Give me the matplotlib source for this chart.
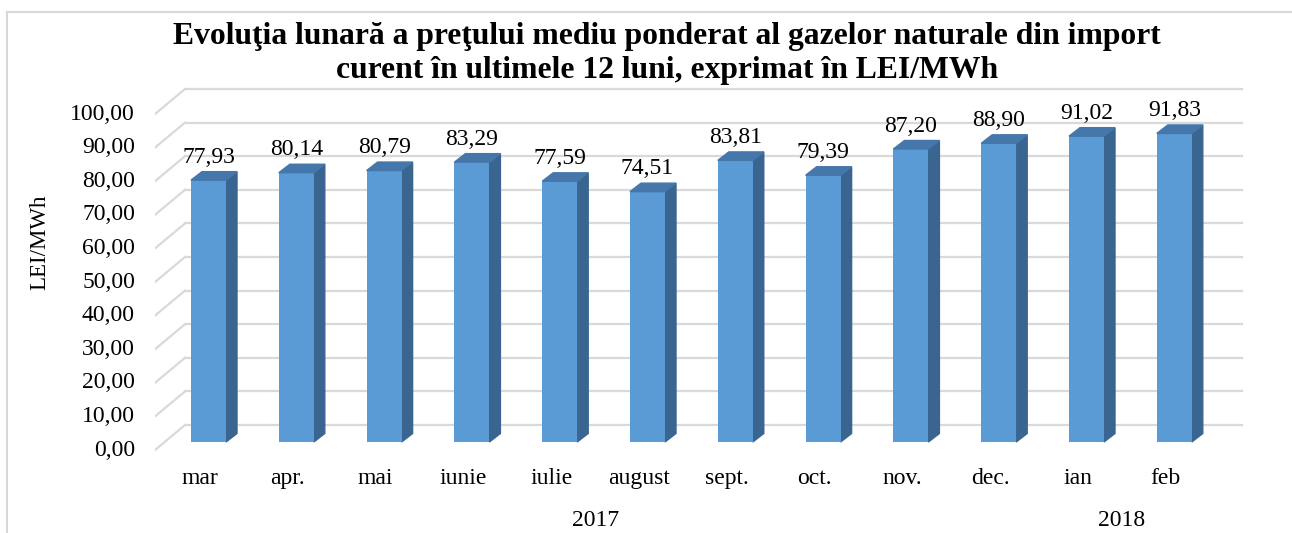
import matplotlib.pyplot as plt
from matplotlib.patches import Polygon

months = ['mar', 'apr.', 'mai', 'iunie', 'iulie', 'august',
          'sept.', 'oct.', 'nov.', 'dec.', 'ian', 'feb']
prices = [77.93, 80.14, 80.79, 83.29, 77.59, 74.51,
          83.81, 79.39, 87.20, 88.90, 91.02, 91.83]
years = ['2017', '2018']
year_spans = [(0, 9), (10, 11)]
y_ticks = [0, 10, 20, 30, 40, 50, 60, 70, 80, 90, 100]

title_lines = ['Evoluţia lunară a preţului mediu ponderat al gazelor naturale din import',
               'curent în ultimele 12 luni, exprimat în LEI/MWh']

FRONT = '#5B9BD5'
SIDE = '#3A6591'
TOP = '#4677AA'
GRID = '#D9D9D9'

plt.rcParams['font.family'] = ['Liberation Serif', 'DejaVu Serif']

W, H, DPI = 1292, 533, 100
fig = plt.figure(figsize=(W / DPI, H / DPI), dpi=DPI)

# axes placed in pixels so that 1 category = 87.8 px, 1 unit = 3.36 px
ax_l, ax_r, ax_t, ax_b = 155, 1260, 80, 533
ax = fig.add_axes([ax_l / W, 1 - ax_b / H, (ax_r - ax_l) / W, (ax_b - ax_t) / H])
PX, PY = 87.8, 3.36
x0_px, y0_px = 208.5, 442
ax.set_xlim((ax_l - x0_px) / PX, (ax_r - x0_px) / PX)
ax.set_ylim((y0_px - ax_b) / PY, (y0_px - ax_t) / PY)
ax.axis('off')

# pseudo-3D geometry (pixel offsets turned into data units)
front_dy = -8 / PY        # floor front plane below bar front
back_dy = 17 / PY         # back wall above bar front
front_x = (155 - x0_px) / PX
back_x = (185 - x0_px) / PX
back_x2 = (1242 - x0_px) / PX
bar_w = 35 / PX
depth_x = 11 / PX
depth_y = 8.5 / PY

for t in y_ticks:
    ax.plot([back_x, back_x2], [t + back_dy, t + back_dy], color=GRID, lw=1.6, zorder=1)
    ax.plot([front_x, back_x], [t + front_dy, t + back_dy], color=GRID, lw=1.6, zorder=1)
    ax.text(front_x - 20 / PX, t + front_dy, f'{t:.2f}'.replace('.', ','),
            ha='right', va='center', fontsize=17)

xs = list(range(len(months)))
ax.bar(xs, prices, width=bar_w, color=FRONT, zorder=3)
for x, v in zip(xs, prices):
    r = x + bar_w / 2
    l = x - bar_w / 2
    side = [(r, 0), (r + depth_x, depth_y), (r + depth_x, v + depth_y), (r, v)]
    top = [(l, v), (r, v), (r + depth_x, v + depth_y), (l + depth_x, v + depth_y)]
    ax.add_patch(Polygon(side, closed=True, color=SIDE, zorder=2))
    ax.add_patch(Polygon(top, closed=True, color=TOP, zorder=3))
    ax.annotate(f'{v:.2f}'.replace('.', ','), (x, v), xytext=(0, 12.5),
                textcoords='offset points', ha='center', va='baseline', fontsize=17)

for x, m in zip(xs, months):
    ax.text(x - 8.5 / PX, (y0_px - 484) / PY, m, ha='center', va='baseline', fontsize=17)

for yr, (a, b) in zip(years, year_spans):
    ax.text((a + b) / 2 - 8.5 / PX, (y0_px - 526) / PY, yr,
            ha='center', va='baseline', fontsize=17)

fig.text(40 / W, 1 - 242 / H, 'LEI/MWh', rotation=90, ha='center', va='center', fontsize=16.5)
for line, base in zip(title_lines, [44, 78]):
    fig.text(667 / W, 1 - base / H, line, ha='center', va='baseline',
             fontsize=22.8, fontweight='bold')

# chart frame (left and top edges visible)
fig.add_artist(plt.Line2D([7 / W, 7 / W], [0, 1 - 12 / H], color=GRID, lw=1.5))
fig.add_artist(plt.Line2D([7 / W, 1], [1 - 12 / H, 1 - 12 / H], color=GRID, lw=1.5))

fig.savefig('out.png', dpi=DPI)
